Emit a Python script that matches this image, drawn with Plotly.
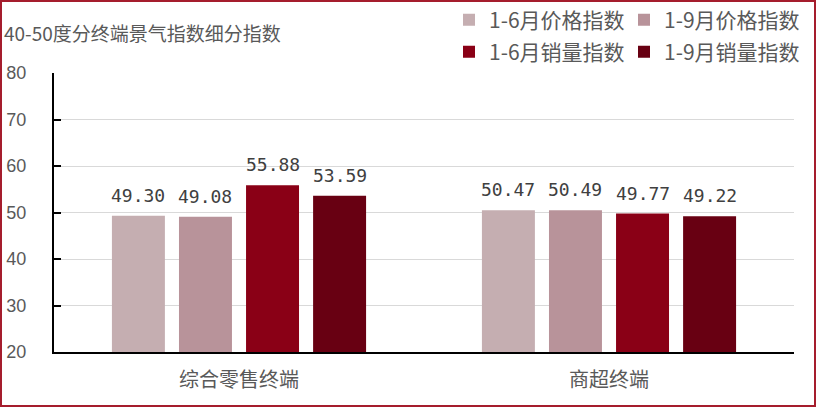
import plotly.graph_objects as go

categories = ["综合零售终端", "商超终端"]
series_names = ["1-6月价格指数", "1-9月价格指数", "1-6月销量指数", "1-9月销量指数"]
series_values = [
    [49.30, 50.47],
    [49.08, 50.49],
    [55.88, 49.77],
    [53.59, 49.22],
]
series_colors = ["#c5aeb1", "#b8939a", "#8a0016", "#680012"]
y_ticks = [20, 30, 40, 50, 60, 70, 80]

W, H = 816, 407
ML, MR, MT, MB = 54, 22, 73, 55
PW, PH = W - ML - MR, H - MT - MB
BARGAP, GROUPGAP = 0.275, 0.21
slot = PW / len(categories) * (1 - BARGAP) / len(series_names)

font_cjk = "Noto Sans CJK SC, Noto Sans, sans-serif"
grey = "#595959"

# legend entries: 2 per row, placed top right
legend_x = [449, 624, 449, 624]
legend_y = [20, 20, 52, 52]

fig = go.Figure()
legend_layout = {}
for i, (name, vals, col) in enumerate(zip(series_names, series_values, series_colors)):
    lg = "legend" if i == 0 else f"legend{i + 1}"
    fig.add_trace(go.Bar(
        x=categories, y=vals, name=name, legend=lg,
        marker=dict(color=col, line=dict(width=0)),
        hoverinfo="x+y+name",
    ))
    legend_layout[lg] = dict(
        x=(legend_x[i] - ML) / PW, y=1 + (MT - legend_y[i]) / PH,
        xanchor="left", yanchor="middle", orientation="h",
        itemwidth=30,
        font=dict(size=21, color=grey, family=font_cjk),
        bgcolor="rgba(0,0,0,0)",
    )
    # value labels above each bar
    for cat, v in zip(categories, vals):
        fig.add_annotation(
            x=cat, y=v, xref="x", yref="y",
            text=f"{v:.2f}", showarrow=False,
            xshift=(i - (len(series_names) - 1) / 2) * slot,
            yanchor="bottom", yshift=8,
            font=dict(size=18, color="#404040", family="DejaVu Sans Mono, monospace"),
        )

# outer frame
fig.add_shape(
    type="rect", xref="paper", yref="paper",
    x0=-(ML - 1) / PW, x1=1 + (MR - 1) / PW,
    y0=-(MB - 1) / PH, y1=1 + (MT - 1) / PH,
    line=dict(color="#a51d2d", width=2),
)

fig.update_layout(
    width=W, height=H,
    margin=dict(l=ML, r=MR, t=MT, b=MB, autoexpand=False),
    paper_bgcolor="white", plot_bgcolor="white",
    barmode="group", bargap=BARGAP, bargroupgap=GROUPGAP,
    title=dict(
        text="40-50度分终端景气指数细分指数",
        x=4 / W, xanchor="left", y=1 - 34 / H, yanchor="middle",
        font=dict(size=19, color=grey, family=font_cjk),
    ),
    showlegend=True,
    xaxis=dict(
        showline=True, linecolor="#000000", linewidth=1.5,
        ticks="", showgrid=False, ticklabelstandoff=9,
        tickfont=dict(size=20, color=grey, family=font_cjk),
    ),
    yaxis=dict(
        range=[20, 80], tickvals=y_ticks,
        showline=True, linecolor="#000000", linewidth=2,
        ticks="inside", ticklen=7, tickwidth=2, tickcolor="#000000",
        showgrid=True, gridcolor="#d9d9d9", gridwidth=1,
        zeroline=False, ticklabelstandoff=22,
        tickfont=dict(size=18, color=grey, family="Liberation Sans, Roboto, sans-serif"),
    ),
    **legend_layout,
)

fig.write_html(
    "out.html",
    config={"displayModeBar": False},
    post_script="document.body.style.margin='0';",
)
